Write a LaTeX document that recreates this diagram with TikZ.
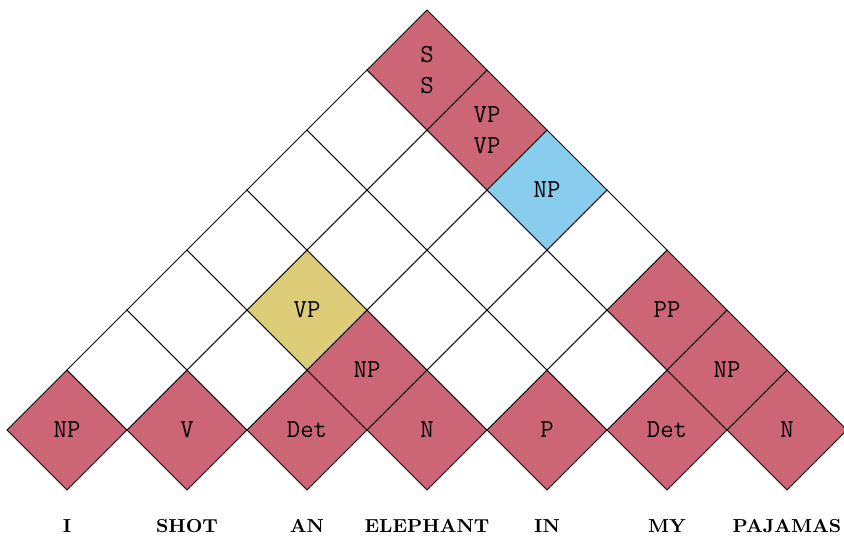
\documentclass[tikz,border=0pt]{standalone}
\usetikzlibrary{shapes.geometric}
\definecolor{tred}{HTML}{CC6677}
\definecolor{tblue}{HTML}{88CCEE}
\definecolor{tsand}{HTML}{DDCC77}
\begin{document}
\begin{tikzpicture}[x=0.5pt,y=0.5pt,
  cell/.style={diamond, draw=black, line width=0.5pt, minimum width=60pt, minimum height=60pt,
    inner sep=0pt, outer sep=0pt, aspect=1, align=center,
    font=\ttfamily\fontsize{13}{15.5}\selectfont},
  word/.style={font=\bfseries\fontsize{9.4}{11}\selectfont, anchor=base}]
\useasboundingbox (0,0) rectangle (844,539);
\foreach \k/\i/\col/\txt in {
  0/0/tred/NP, 0/1/tred/V, 0/2/tred/Det, 0/3/tred/N, 0/4/tred/P, 0/5/tred/Det, 0/6/tred/N,
  1/0/white/{}, 1/1/white/{}, 1/2/tred/NP, 1/3/white/{}, 1/4/white/{}, 1/5/tred/NP,
  2/0/white/{}, 2/1/tsand/VP, 2/2/white/{}, 2/3/white/{}, 2/4/tred/PP,
  3/0/white/{}, 3/1/white/{}, 3/2/white/{}, 3/3/white/{},
  4/0/white/{}, 4/1/white/{}, 4/2/tblue/NP,
  5/0/white/{}, 5/1/tred/{VP\\VP},
  6/0/tred/{S\\S}}{
  \node[cell, fill=\col] (c-\k-\i) at ({67+60*\k+120*\i},{109+60*\k}) {\txt};
}
\foreach \i/\w in {0/I, 1/SHOT, 2/AN, 3/ELEPHANT, 4/IN, 5/MY, 6/PAJAMAS}{
  \node[word] (w-\i) at ({67+120*\i},6) {\w};
}
\end{tikzpicture}
\end{document}
